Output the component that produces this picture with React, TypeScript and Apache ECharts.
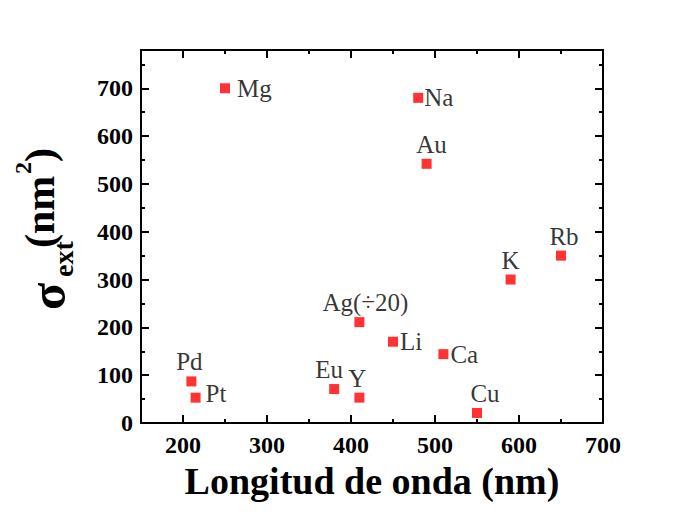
import React, { useEffect, useRef } from "react";
import * as echarts from "echarts";

const elements = ["Mg", "Na", "Au", "Rb", "K", "Ag(÷20)", "Li", "Ca", "Eu", "Y", "Cu", "Pd", "Pt"];
const wavelengths = [250, 480, 490, 650, 590, 410, 450, 510, 380, 410, 550, 210, 215];
const sigmas = [700, 680, 542, 350, 300, 211, 170, 144, 71, 53, 21, 87, 53];
const labelPos = ["right", "right", "top", "top", "top", "top", "right", "right", "top", "top", "top", "top", "right"];
const labelDist = [7, 1, 2, 2, 2, 2, 2, 2, 2, 2, 2, 2, 5];
const labelOff = [[0, 0], [0, 0], [5, 0], [3, 0], [0, 0], [6, 0], [0, 0], [0, 0], [-5, 0], [-2, 0], [8, 0], [-2, 0], [0, -4]];
const xMajor = [200, 300, 400, 500, 600, 700];
const xMinor = [150, 250, 350, 450, 550, 650];
const yMajor = [0, 100, 200, 300, 400, 500, 600, 700];
const yMinor = [50, 150, 250, 350, 450, 550, 650, 750];

const serif = "Liberation Serif";

export default function App() {
  const ref = useRef<HTMLDivElement>(null);
  useEffect(() => {
    if (!ref.current) return;
    const chart = echarts.init(ref.current, null, { renderer: "svg" });
    const line = { show: true, onZero: false, lineStyle: { color: "#000", width: 2 } };
    const tick = (vals: number[], len: number) => ({
      show: true,
      inside: true,
      length: len,
      customValues: vals,
      lineStyle: { color: "#000", width: 2 },
    });
    const labelStyle = {
      color: "#000",
      fontFamily: serif,
      fontWeight: "bold",
      fontSize: 24,
    };
    const xBase = { type: "value", min: 150, max: 700, splitLine: { show: false } };
    const yBase = { type: "value", min: 0, max: 780, splitLine: { show: false } };
    const data = elements.map((name, i) => ({
      value: [wavelengths[i], sigmas[i]],
      name,
      label: { position: labelPos[i] as any, distance: labelDist[i], offset: labelOff[i] },
    }));
    const t = (text: string, x: number, y: number, size: number) => ({
      type: "text",
      x,
      y,
      style: { text, fontFamily: serif, fontWeight: "bold", fontSize: size, fill: "#000", verticalAlign: "middle", align: "left" },
    });
    chart.setOption({
      animation: false,
      backgroundColor: "#fff",
      grid: { left: 141, right: 70, top: 50, bottom: 92 },
      xAxis: [
        {
          ...xBase,
          position: "bottom",
          axisLine: line,
          axisTick: tick(xMajor, 8),
          axisLabel: { ...labelStyle, margin: 10, customValues: xMajor },
          name: "Longitud de onda (nm)",
          nameLocation: "middle",
          nameGap: 38,
          nameTextStyle: { color: "#000", fontFamily: serif, fontWeight: "bold", fontSize: 38 },
        },
        {
          ...xBase,
          position: "top",
          axisLine: line,
          axisTick: tick(xMajor, 8),
          axisLabel: { show: false },
        },
        {
          ...xBase,
          position: "bottom",
          axisLine: { show: false, onZero: false },
          axisTick: tick(xMinor, 4),
          axisLabel: { show: false },
        },
        {
          ...xBase,
          position: "top",
          axisLine: { show: false, onZero: false },
          axisTick: tick(xMinor, 4),
          axisLabel: { show: false },
        },
      ],
      yAxis: [
        {
          ...yBase,
          position: "left",
          axisLine: line,
          axisTick: tick(yMajor, 8),
          axisLabel: { ...labelStyle, margin: 8, customValues: yMajor },
        },
        {
          ...yBase,
          position: "right",
          axisLine: line,
          axisTick: tick(yMajor, 8),
          axisLabel: { show: false },
        },
        {
          ...yBase,
          position: "left",
          axisLine: { show: false, onZero: false },
          axisTick: tick(yMinor, 4),
          axisLabel: { show: false },
        },
        {
          ...yBase,
          position: "right",
          axisLine: { show: false, onZero: false },
          axisTick: tick(yMinor, 4),
          axisLabel: { show: false },
        },
      ],
      graphic: [
        {
          type: "group",
          x: 61,
          y: 310,
          rotation: Math.PI / 2,
          children: [
            t("σ", 0, -13, 50),
            t("ext", 33, 2.5, 28),
            t("(nm", 62, -21, 42),
            t("2", 136, -38, 24),
            t(")", 148, -21, 42),
          ],
        },
      ],
      series: [
        {
          type: "scatter",
          xAxisIndex: 0,
          yAxisIndex: 0,
          symbol: "rect",
          symbolSize: 10,
          itemStyle: { color: "#ff0000" },
          label: {
            show: true,
            formatter: (p: any) => p.name,
            color: "#000",
            fontFamily: serif,
            fontSize: 25,
          },
          data,
        },
      ],
    });
    return () => chart.dispose();
  }, []);
  return <div ref={ref} style={{ width: 673, height: 515, position: "absolute", left: 0, top: 0 }} />;
}
